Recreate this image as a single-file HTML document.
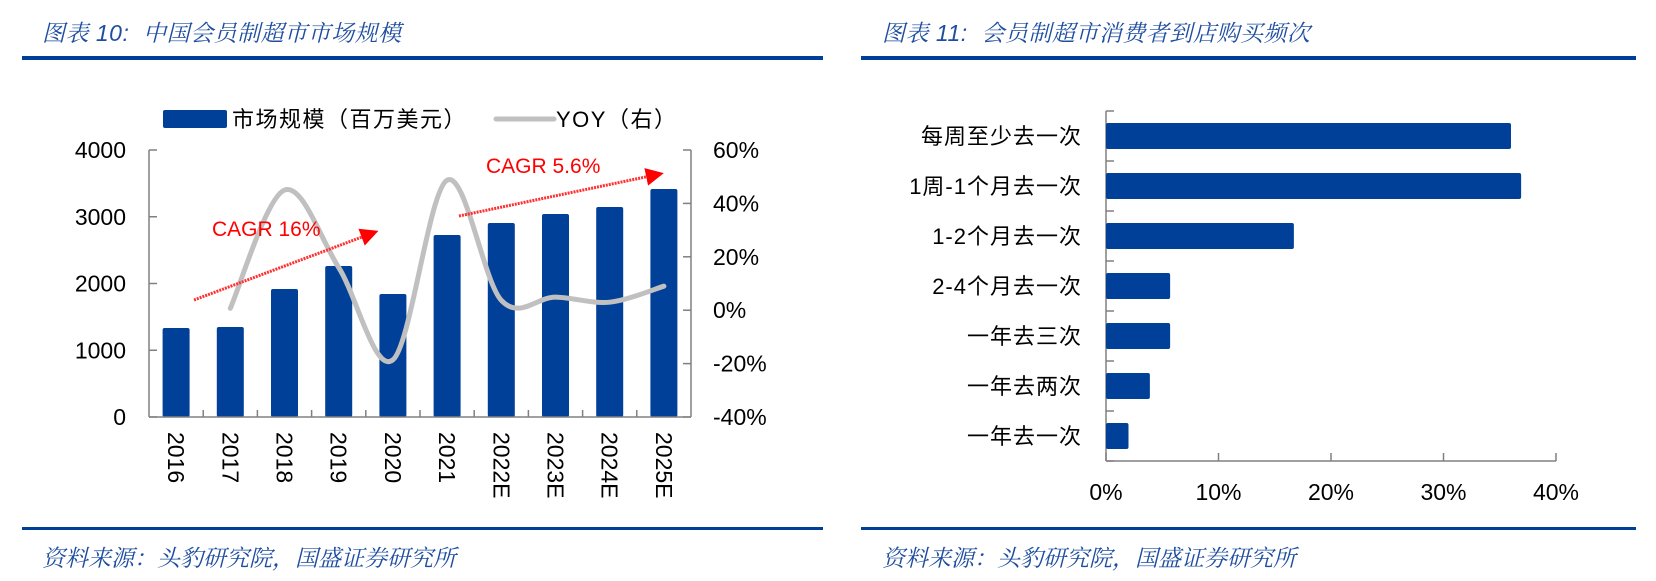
<!DOCTYPE html>
<html><head><meta charset="utf-8"><style>
html,body{margin:0;padding:0;background:#fff;}
body{width:1656px;height:581px;overflow:hidden;position:relative;font-family:"Liberation Sans","Noto Sans CJK SC",sans-serif;}
.title{position:absolute;top:15px;font-size:23px;font-style:italic;color:#1f4ea0;font-family:"Liberation Sans","Noto Serif CJK SC",serif;white-space:nowrap;letter-spacing:0.5px;}
.rule{position:absolute;height:4px;background:#003f98;}
.src{position:absolute;top:540px;font-size:23px;font-style:italic;color:#1f4ea0;font-family:"Liberation Sans","Noto Serif CJK SC",serif;white-space:nowrap;}
svg{position:absolute;left:0;top:0;}
</style></head><body>
<div class="title" style="left:42px">图表 10:&nbsp; 中国会员制超市市场规模</div>
<div class="title" style="left:882px">图表 11:&nbsp; 会员制超市消费者到店购买频次</div>
<div class="rule" style="left:22px;width:801px;top:56px"></div>
<div class="rule" style="left:861px;width:775px;top:56px"></div>
<div class="rule" style="left:22px;width:801px;top:527px;height:3px"></div>
<div class="rule" style="left:861px;width:775px;top:527px;height:3px"></div>
<div class="src" style="left:42px">资料来源：头豹研究院，国盛证券研究所</div>
<div class="src" style="left:882px">资料来源：头豹研究院，国盛证券研究所</div>
<svg id="chart" width="1656" height="581"></svg>
<script>
const years=["2016","2017","2018","2019","2020","2021","2022E","2023E","2024E","2025E"];
const marketSize=[1333,1348,1918,2262,1843,2727,2906,3041,3146,3416];
const yoy=[null,0.7,45,16,-18.6,48.7,3.7,4.9,3.0,9.0];
const leftTicks=[0,1000,2000,3000,4000];
const rightTicks=[-40,-20,0,20,40,60];
const freqCats=["每周至少去一次","1周-1个月去一次","1-2个月去一次","2-4个月去一次","一年去三次","一年去两次","一年去一次"];
const freqVals=[36.0,36.9,16.7,5.7,5.7,3.9,2.0];
const freqTicks=[0,10,20,30,40];

const NS="http://www.w3.org/2000/svg";
const svg=document.getElementById('chart');
function mk(t,a,txt){const e=document.createElementNS(NS,t);for(const k in a)e.setAttribute(k,a[k]);if(txt!=null)e.textContent=txt;svg.appendChild(e);return e;}
const F='"Liberation Sans","Noto Sans CJK SC",sans-serif';
const L={x0:149,x1:691,yTop:150,yBot:417};
const yL=v=>L.yBot-(v/4000)*(L.yBot-L.yTop);
const yR=v=>L.yBot-((v+40)/100)*(L.yBot-L.yTop);
const slot=(L.x1-L.x0)/years.length;
const xC=i=>L.x0+slot*(i+0.5);
let e=mk('line',{x1:L.x0,y1:L.yTop,x2:L.x0,y2:L.yBot,stroke:'#808080','stroke-width':1.5});

e=mk('line',{x1:L.x1,y1:L.yTop,x2:L.x1,y2:L.yBot,stroke:'#808080','stroke-width':1.5});

leftTicks.forEach(t=>{const y=yL(t);
 mk('line',{x1:L.x0,y1:y,x2:L.x0+8,y2:y,stroke:'#808080','stroke-width':1.5});
 const tx=mk('text',{x:126,y:y+8,'text-anchor':'end','font-size':23,'font-family':F,fill:'#000'},t);
 });
rightTicks.forEach(t=>{const y=yR(t);
 mk('line',{x1:L.x1-8,y1:y,x2:L.x1,y2:y,stroke:'#808080','stroke-width':1.5});
 const tx=mk('text',{x:713,y:y+8,'font-size':23,'font-family':F,fill:'#000'},t+'%');
 });
marketSize.forEach((v,i)=>{const r=mk('rect',{x:xC(i)-13.5,y:yL(v),width:27,height:L.yBot-yL(v),rx:2,fill:'#004098'});
 });
e=mk('line',{x1:L.x0,y1:L.yBot,x2:L.x1,y2:L.yBot,stroke:'#808080','stroke-width':1.5});

for(let i=1;i<years.length;i++){mk('line',{x1:L.x0+slot*i,y1:L.yBot,x2:L.x0+slot*i,y2:L.yBot-7,stroke:'#808080','stroke-width':1.5});}
years.forEach((y,i)=>{const tx=mk('text',{x:0,y:0,'font-size':23,'font-family':F,fill:'#000',transform:`translate(${xC(i)-8},432) rotate(90)`},y);
 });
const pts=[];yoy.forEach((v,i)=>{if(v!=null)pts.push([xC(i),yR(v)]);});
let d=`M${pts[0][0]},${pts[0][1]}`;
for(let i=0;i<pts.length-1;i++){const p0=pts[i-1]||pts[i],p1=pts[i],p2=pts[i+1],p3=pts[i+2]||p2;
 const c1=[p1[0]+(p2[0]-p0[0])/6,p1[1]+(p2[1]-p0[1])/6],c2=[p2[0]-(p3[0]-p1[0])/6,p2[1]-(p3[1]-p1[1])/6];
 d+=` C${c1[0]},${c1[1]} ${c2[0]},${c2[1]} ${p2[0]},${p2[1]}`;}
e=mk('path',{d:d,fill:'none',stroke:'#c0c0c0','stroke-width':5,'stroke-linecap':'round'});

mk('defs',{}).innerHTML='<marker id="ah" markerWidth="6" markerHeight="6" refX="3" refY="3" orient="auto" markerUnits="strokeWidth"><path d="M0,0 L6,3 L0,6 z" fill="#ff0000"/></marker>';
e=mk('line',{x1:194,y1:300,x2:370,y2:234,stroke:'#ff3030','stroke-width':3,'stroke-dasharray':'2 1','marker-end':'url(#ah)'});

e=mk('line',{x1:459,y1:216,x2:655,y2:175,stroke:'#ff3030','stroke-width':3,'stroke-dasharray':'2 1','marker-end':'url(#ah)'});

e=mk('text',{x:212,y:236,'font-size':21,'font-family':F,fill:'#ff0000'},'CAGR 16%');

e=mk('text',{x:486,y:173,'font-size':21,'font-family':F,fill:'#ff0000'},'CAGR 5.6%');

e=mk('rect',{x:163,y:110,width:64,height:18,rx:2,fill:'#004098'});

e=mk('text',{x:232,y:127,'font-size':22,'font-family':F,fill:'#000','letter-spacing':1.5},'市场规模（百万美元）');

e=mk('line',{x1:496,y1:119,x2:554,y2:119,stroke:'#c0c0c0','stroke-width':5,'stroke-linecap':'round'});

e=mk('text',{x:556,y:127,'font-size':22,'font-family':F,fill:'#000','letter-spacing':1.5},'YOY（右）');


const R={x0:1106,yTop:111,yBot:461,pxPer:11.25};
const xR=v=>R.x0+v*R.pxPer;
const band=(R.yBot-R.yTop)/freqCats.length;
const yB=i=>R.yTop+band*(i+0.5);
e=mk('line',{x1:R.x0,y1:R.yTop,x2:R.x0,y2:R.yBot,stroke:'#808080','stroke-width':1.5});

for(let i=0;i<=freqCats.length;i++){mk('line',{x1:R.x0,y1:R.yTop+band*i,x2:R.x0+8,y2:R.yTop+band*i,stroke:'#808080','stroke-width':1.5});}
freqVals.forEach((v,i)=>{const r=mk('rect',{x:R.x0,y:yB(i)-13,width:xR(v)-R.x0,height:26,rx:2,fill:'#004098'});
 
 const tx=mk('text',{x:1082,y:yB(i)+8,'text-anchor':'end','font-size':22,'font-family':F,fill:'#000','letter-spacing':1},freqCats[i]);
 });
e=mk('line',{x1:R.x0,y1:R.yBot,x2:xR(40),y2:R.yBot,stroke:'#808080','stroke-width':1.5});

freqTicks.forEach(t=>{mk('line',{x1:xR(t),y1:R.yBot,x2:xR(t),y2:R.yBot-8,stroke:'#808080','stroke-width':1.5});
 const tx=mk('text',{x:xR(t),y:500,'text-anchor':'middle','font-size':23,'font-family':F,fill:'#000'},t+'%');
 });
</script>
</body></html>
